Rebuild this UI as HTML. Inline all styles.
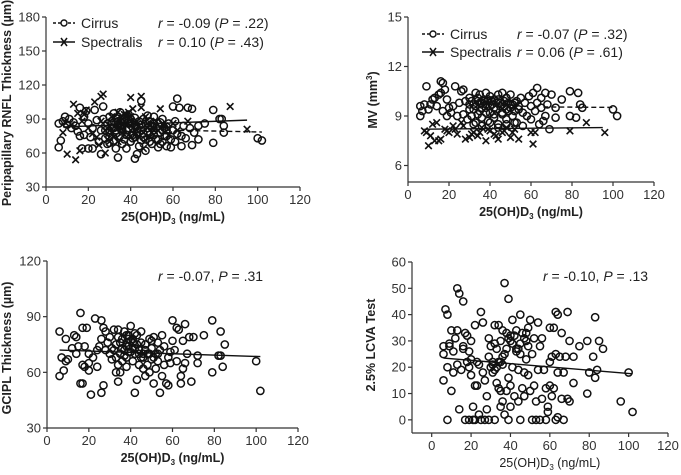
<!DOCTYPE html>
<html><head><meta charset="utf-8"><style>
html,body{margin:0;padding:0;background:#fff;}
svg{display:block;font-family:"Liberation Sans",Arial,sans-serif;}
</style></head><body>
<svg id="chart" width="681" height="475" viewBox="0 0 681 475"></svg>
<script>
// Panel A: RNFL
const rnflCirrusX=[6,6,7,8,9,10,11,12,13,14,15,16,16,17,18,18,19,20,20,21,22,22,23,24,25,26,26,27,27,28,28,29,30,30,31,32,32,33,33,34,34,35,35,36,36,37,37,38,38,39,40,40,41,42,42,43,43,44,45,45,46,46,47,47,48,49,49,50,51,51,52,53,53,54,55,55,56,57,57,58,59,59,60,60,61,61,62,62,63,64,64,65,66,67,68,69,69,70,72,72,75,79,79,82,83,84,84,100,102,
 28,29,30,31,32,33,34,35,36,37,38,39,40,41,42,43,44,45,46,47,48,49,50,51,52,53,54,55,56,57,30,33,36,39,42,45,48,51,54,57];
const rnflCirrusY=[65,86,71,88,92,85,90,82,87,84,79,75,100,64,76,92,97,86,64,74,82,64,98,89,70,59,80,101,90,73,84,68,92,78,85,71,95,64,80,56,88,75,96,68,84,90,72,64,80,94,86,70,76,55,91,81,59,66,85,106,77,90,62,72,82,76,88,68,80,92,72,65,86,78,70,90,82,66,75,86,72,65,80,101,88,70,108,77,100,75,66,84,73,100,82,67,99,78,72,84,86,98,69,90,90,78,84,73,71,
 80,86,74,88,82,77,92,84,79,87,76,82,90,73,85,78,88,80,74,86,79,70,84,76,82,72,87,80,75,83,69,91,81,87,74,71,93,86,68,80];
const rnflSpecX=[8,9,10,12,13,14,15,16,17,18,19,20,22,23,24,25,26,27,28,30,31,32,33,34,35,36,37,38,39,40,41,42,43,44,45,46,47,48,50,52,54,56,58,60,62,67,87,95,
 26,28,29,31,33,35,36,37,38,39,40,41,42,43,44,46,48,49,51,53,30,34,38,40,45];
const rnflSpecY=[78,87,59,85,103,54,95,62,88,94,98,82,77,105,74,67,110,112,60,84,92,74,82,70,88,78,94,84,76,109,99,86,80,74,110,64,92,82,78,88,99,84,76,86,80,88,101,81,
 88,80,72,78,86,82,90,88,94,96,92,82,76,88,84,78,86,74,82,80,70,96,92,88,100];
const rnflCirrusFitX=[63,102], rnflCirrusFitY=[80,78.5];
const rnflSpecFitX=[8,95], rnflSpecFitY=[83,89];
const rnflYTicks=[30,60,90,120,150,180];
// Panel B: MV
const mvCirrusX=[6,6,7,8,9,10,11,12,13,14,15,16,16,17,17,18,19,19,20,21,22,23,24,25,26,27,27,28,29,30,30,31,32,33,33,34,35,35,36,36,37,38,38,39,39,40,40,41,42,42,43,44,44,45,46,46,47,48,48,49,50,50,51,52,53,54,55,56,57,58,59,60,60,61,62,63,63,64,65,65,66,67,67,68,69,70,72,72,75,79,79,82,83,84,85,100,102,
 30,31,32,33,34,35,36,37,38,39,40,41,42,43,44,45,46,47,48,49,50,51,52,53,54,32,36,40,44,48,52,56,34,38,42,46];
const mvCirrusY=[9.6,9.0,9.3,9.7,10.8,9.4,9.7,10.0,10.1,9.6,10.3,11.1,10.4,11.0,9.3,10.6,10.0,9.0,9.5,9.2,9.6,10.8,9.0,9.8,10.5,10.6,9.1,9.9,8.8,10.1,9.4,9.0,9.7,10.4,8.6,9.9,9.3,10.3,8.9,9.8,10.0,9.5,10.4,8.7,9.9,10.2,9.2,9.7,8.9,10.0,9.4,10.3,8.5,9.8,9.1,10.4,9.6,8.8,10.1,9.3,10.3,9.7,9.0,9.8,8.6,9.4,10.1,9.2,9.8,9.0,10.2,9.6,8.8,10.4,9.3,10.7,9.8,8.5,10.1,9.5,8.7,10.4,9.0,9.7,8.2,10.3,8.9,9.5,10.0,10.5,9.0,8.9,10.4,9.7,9.5,9.4,9.0,
 9.7,9.9,9.4,9.6,10.1,9.8,9.5,9.9,9.7,10.0,9.6,9.9,9.5,9.8,10.0,9.6,9.7,9.9,9.4,9.8,9.5,9.7,9.3,9.9,9.6,8.5,8.4,8.6,8.3,8.5,8.6,8.4,9.1,9.2,9.1,9.2];
const mvSpecX=[8,9,10,11,12,13,14,15,16,18,20,22,24,26,28,30,32,34,36,38,40,42,44,46,48,50,52,54,60,61,62,79,87,96,
 19,23,27,31,35,39,43,47,51];
const mvSpecY=[8.1,8.0,7.2,7.8,8.5,7.5,8.6,7.5,7.6,8.2,8.0,8.4,7.9,8.6,7.6,7.7,8.0,7.8,8.3,7.5,8.1,7.9,7.6,8.0,8.3,7.7,8.2,7.6,8.0,7.3,8.0,8.1,8.6,8.0,
 8.1,8.2,8.4,7.9,8.0,8.2,7.8,8.1,8.0];
const mvCirrusFitX=[66,100], mvCirrusFitY=[9.55,9.52];
const mvSpecFitX=[8,95], mvSpecFitY=[8.2,8.3];
const mvYTicks=[6,9,12,15];
// Panel C: GCIPL
const gcX=[6,6,7,8,9,9,10,12,13,14,14,15,16,16,17,17,17,18,18,19,20,20,20,21,22,23,24,24,25,26,26,26,27,27,28,28,29,30,30,31,32,32,33,33,34,34,34,35,35,36,36,37,37,38,38,38,39,39,40,40,41,41,42,42,43,43,44,44,45,45,46,46,47,47,48,48,49,49,50,50,51,51,52,52,53,53,54,54,55,55,56,56,57,58,58,59,59,60,60,61,62,62,63,64,64,65,65,66,66,67,68,69,70,72,72,75,79,79,82,83,83,84,85,100,102,
 31,33,35,36,37,38,39,40,41,42,43,44,45,47,49,51,53,34,38,42,46,50,39,41];
const gcY=[82,58,68,61,66,78,67,73,80,79,70,74,92,54,84,64,54,63,74,84,70,61,65,48,68,89,63,72,74,78,88,49,84,53,82,72,76,70,79,67,83,72,60,75,55,83,64,70,60,78,66,72,82,68,76,63,80,74,71,85,66,78,49,73,56,80,70,64,82,76,62,68,58,75,70,64,78,60,67,73,54,79,70,62,76,66,49,72,80,58,64,74,54,68,53,65,71,77,88,72,84,66,83,54,58,62,77,86,65,70,79,55,79,65,69,80,88,60,69,82,69,63,75,66,50,
 73,68,76,73,69,74,71,77,73,70,75,72,68,72,70,68,70,79,80,81,70,77,78,76];
const gcFitX=[6,102], gcFitY=[72,68.5];
const gcYTicks=[30,60,90,120];
// Panel D: LCVA
const lcX=[6,6,6,7,8,8,8,9,9,10,10,11,11,12,13,13,13,14,14,15,16,16,16,17,17,18,18,19,19,19,20,20,20,21,21,22,22,22,23,23,24,24,25,25,26,26,27,27,28,28,29,29,29,30,30,31,31,32,32,32,33,33,34,34,34,35,35,35,36,36,36,37,37,38,38,38,39,39,39,40,40,40,41,41,42,42,43,43,44,44,45,45,45,46,46,47,47,48,48,49,49,50,50,51,51,52,52,53,53,54,54,55,55,56,56,57,58,58,59,59,60,60,60,61,61,62,62,63,63,63,64,64,64,65,66,66,67,67,68,69,69,70,70,72,72,75,79,79,80,82,83,83,84,85,87,96,100,102,
 31,33,35,37,39,41,43,45,47,49,32,36,40,44,48];
const lcY=[28,25,15,42,40,20,0,28,29,34,11,26,18,31,34,21,50,48,4,19,45,28,27,33,0,32,22,26,20,0,23,30,17,5,0,36,0,13,22,13,2,21,41,0,18,37,15,0,4,9,31,24,0,20,28,22,18,36,29,0,14,27,12,22,36,5,11,30,7,34,24,52,2,11,27,33,46,16,0,5,13,30,38,20,9,32,27,34,7,19,40,0,25,12,33,9,18,23,30,17,35,11,38,0,25,13,31,7,0,37,19,28,0,8,31,19,12,0,5,3,22,35,13,9,24,35,12,41,0,25,40,18,1,24,33,8,0,18,24,41,8,30,7,24,14,28,30,10,18,24,39,16,19,30,27,7,18,3,
 21,20,22,25,31,29,26,29,31,28,19,21,32,27,33];
const lcFitX=[6,102], lcFitY=[23.5,17.5];
const lcYTicks=[0,10,20,30,40,50,60];
const xTicks=[0,20,40,60,80,100,120];

const svg=document.getElementById('chart');
const NS='http://www.w3.org/2000/svg';
function mk(tag,attrs,parent){const e=document.createElementNS(NS,tag);for(const k in attrs)e.setAttribute(k,attrs[k]);(parent||svg).appendChild(e);return e;}
function txt(s,attrs,parent){const e=mk('text',attrs,parent);e.textContent=s;return e;}

function panel(cfg){
  const g=mk('g',{});
  
  
  const sx=v=>cfg.x0+(v-cfg.xmin)/(120-cfg.xmin)*(cfg.x1-cfg.x0);
  const sy=v=>cfg.y0-(v-cfg.ymin)/(cfg.ymax-cfg.ymin)*(cfg.y0-cfg.y1);
  const ax=mk('g',{stroke:'#333','stroke-width':1.2},g);
  
  
  mk('line',{x1:cfg.x0,y1:cfg.y1,x2:cfg.x0,y2:cfg.y0},ax);
  mk('line',{x1:cfg.x0,y1:cfg.y0,x2:cfg.x1,y2:cfg.y0},ax);
  xTicks.forEach(t=>{
    const X=sx(t);
    mk('line',{x1:X,y1:cfg.y0,x2:X,y2:cfg.y0+4},ax);
    const l=txt(String(t),{x:X,y:cfg.y0+17,'text-anchor':'middle','font-size':13,fill:'#333'},g);
    
    
  });
  cfg.yt.forEach(t=>{
    const Y=sy(t);
    mk('line',{x1:cfg.x0-4,y1:Y,x2:cfg.x0,y2:Y},ax);
    const l=txt(String(t),{x:cfg.x0-6,y:Y+4.5,'text-anchor':'end','font-size':13,fill:'#333'},g);
    
    
  });
  const xt=txt('',{x:(sx(0)+sx(120))/2,y:cfg.y0+34,'text-anchor':'middle','font-size':12.5,'font-weight':cfg.xbold===false?'normal':'bold',fill:'#222'},g);
  xt.innerHTML='25(OH)D<tspan font-size="8" dy="3">3</tspan><tspan dy="-3"> (ng/mL)</tspan>';
  
  
  const yt=txt('',{x:0,y:0,'text-anchor':'middle','font-size':12.5,'font-weight':'bold',fill:'#222',transform:`translate(${cfg.ytx},${cfg.yty}) rotate(-90)`},g);
  yt.innerHTML=cfg.ytitle;
  
  
  cfg.series.forEach(s=>{
    const sg=mk('g',{},g);
    
    
    s.xs.forEach((xv,i)=>{
      const X=sx(xv),Y=sy(s.ys[i]);
      if(s.kind==='o'){
        const c=mk('circle',{cx:X,cy:Y,r:3.6,fill:'none',stroke:'#111','stroke-width':1.5},sg);
        
        
      }else{
        const p=mk('path',{d:`M${X-3.3},${Y-3.3}L${X+3.3},${Y+3.3}M${X-3.3},${Y+3.3}L${X+3.3},${Y-3.3}`,stroke:'#111','stroke-width':1.6},sg);
        
        
      }
    });
  });
  cfg.fits.forEach(f=>{
    const l=mk('line',{x1:sx(f.xs[0]),y1:sy(f.ys[0]),x2:sx(f.xs[1]),y2:sy(f.ys[1]),stroke:'#111','stroke-width':1.4},g);
    if(f.dash)l.setAttribute('stroke-dasharray','5,3');
    
    
  });
  return g;
}

function legend(g,x,y,label,kind,stat){
  const lg=mk('g',{},g);
  
  
  const line=mk('line',{x1:x,y1:y,x2:x+22,y2:y,stroke:'#111','stroke-width':1.4},lg);
  if(kind==='o'){line.setAttribute('stroke-dasharray','3,2');mk('circle',{cx:x+11,cy:y,r:3,fill:'#fff',stroke:'#111','stroke-width':1.4},lg);}
  else mk('path',{d:`M${x+8},${y-4}L${x+14},${y+4}M${x+8},${y+4}L${x+14},${y-4}`,stroke:'#111','stroke-width':1.5},lg);
  txt(label,{x:x+28,y:y+5,'font-size':14,fill:'#222'},lg);
  const st=txt('',{x:stat[0],y:y+5,'font-size':14,fill:'#222'},lg);
  st.innerHTML=stat[1];
}
function stat(g,x,y,html){
  const t=txt('',{x:x,y:y,'font-size':14,fill:'#222'},g);
  t.innerHTML=html;
  
  
}

const gA=panel({name:'rnfl-panel',x0:46,x1:300,xmin:0,y0:187,y1:17,ymin:30,ymax:180,yt:rnflYTicks,ytx:11,yty:103,
  ytitle:'Peripapillary RNFL Thickness (µm)',
  series:[{name:'cirrus-series',kind:'o',xs:rnflCirrusX,ys:rnflCirrusY},{name:'spectralis-series',kind:'x',xs:rnflSpecX,ys:rnflSpecY}],
  fits:[{xs:rnflCirrusFitX,ys:rnflCirrusFitY,dash:true},{xs:rnflSpecFitX,ys:rnflSpecFitY}]});
legend(gA,53,23,'Cirrus','o',[158,'<tspan font-style="italic">r</tspan> = -0.09 (<tspan font-style="italic">P</tspan> = .22)']);
legend(gA,53,42,'Spectralis','x',[158,'<tspan font-style="italic">r</tspan> = 0.10 (<tspan font-style="italic">P</tspan> = .43)']);

const gB=panel({name:'mv-panel',x0:408,x1:654,xmin:0,y0:182,y1:17,ymin:5,ymax:15,yt:mvYTicks,ytx:377,yty:100,
  ytitle:'MV (mm<tspan font-size="8" dy="-5">3</tspan><tspan dy="5">)</tspan>',
  series:[{name:'cirrus-series',kind:'o',xs:mvCirrusX,ys:mvCirrusY},{name:'spectralis-series',kind:'x',xs:mvSpecX,ys:mvSpecY}],
  fits:[{xs:mvCirrusFitX,ys:mvCirrusFitY,dash:true},{xs:mvSpecFitX,ys:mvSpecFitY}]});
legend(gB,422,34,'Cirrus','o',[517,'<tspan font-style="italic">r</tspan> = -0.07 (<tspan font-style="italic">P</tspan> = .32)']);
legend(gB,422,52,'Spectralis','x',[517,'<tspan font-style="italic">r</tspan> = 0.06 (<tspan font-style="italic">P</tspan> = .61)']);

const gC=panel({name:'gcipl-panel',x0:47,x1:298,xmin:0,y0:428,y1:261,ymin:30,ymax:120,yt:gcYTicks,ytx:11,yty:348,
  ytitle:'GCIPL Thickness (µm)',
  series:[{name:'gcipl-series',kind:'o',xs:gcX,ys:gcY}],fits:[{xs:gcFitX,ys:gcFitY}]});
stat(gC,158,281,'<tspan font-style="italic">r</tspan> = -0.07, <tspan font-style="italic">P</tspan> = .31');

const gD=panel({name:'lcva-panel',x0:412,x1:668,xmin:-10,y0:433,y1:262,ymin:-5,ymax:60,yt:lcYTicks,ytx:375,yty:345,xbold:false,
  ytitle:'2.5% LCVA Test',
  series:[{name:'lcva-series',kind:'o',xs:lcX,ys:lcY}],fits:[{xs:lcFitX,ys:lcFitY}]});
stat(gD,543,281,'<tspan font-style="italic">r</tspan> = -0.10, <tspan font-style="italic">P</tspan> = .13');
</script>
</body></html>
